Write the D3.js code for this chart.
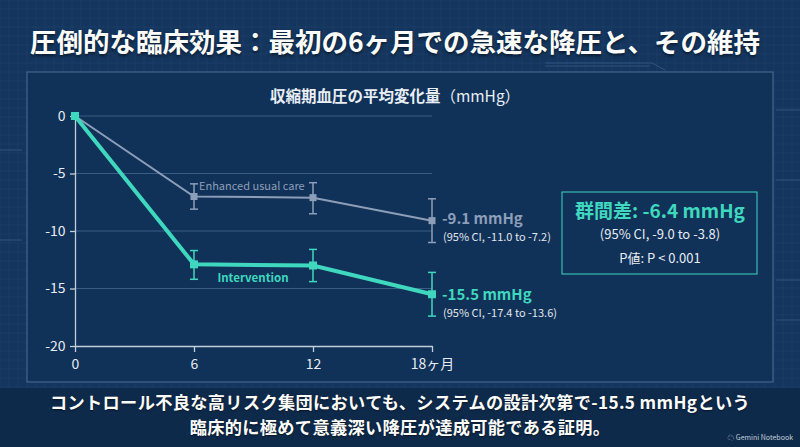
<!DOCTYPE html>
<html>
<head>
<meta charset="utf-8">
<script src="https://cdn.jsdelivr.net/npm/d3@7"></script>
<style>
  html, body { margin: 0; padding: 0; background: #14365e; }
  svg { display: block; }
  text { font-family: "Noto Sans CJK JP", "Noto Sans", sans-serif; }
</style>
</head>
<body>
<div id="chart"></div>
<script>
// data
const months = [0, 6, 12, 18];
const xTickLabels = ["0", "6", "12", "18ヶ月"];
const yTicks = [0, -5, -10, -15, -20];
const usualMean = [0, -7.0, -7.1, -9.1];
const usualLo = [0, -8.1, -8.5, -11.0];
const usualHi = [0, -5.9, -5.8, -7.2];
const interMean = [0, -12.9, -13.0, -15.5];
const interLo = [0, -14.2, -14.4, -17.4];
const interHi = [0, -11.7, -11.6, -13.6];

const w = 800, h = 447;
const teal = "#3fd8bf";
const grey = "#8d9fb8";

const svg = d3.select('#chart').append('svg').attr('width', w).attr('height', h);

// blueprint background grid
const bg = svg.append('g');
bg.append('rect').attr('width', w).attr('height', h).attr('fill', '#14365e');
bg.selectAll('line.vg').data(d3.range(0, w, 9)).enter().append('line')
  .attr('x1', d => d).attr('x2', d => d).attr('y1', 0).attr('y2', h)
  .attr('stroke', '#2a4d78').attr('stroke-width', 0.5).attr('opacity', 0.5);
bg.selectAll('line.hg').data(d3.range(0, h, 9)).enter().append('line')
  .attr('x1', 0).attr('x2', w).attr('y1', d => d).attr('y2', d => d)
  .attr('stroke', '#2a4d78').attr('stroke-width', 0.5).attr('opacity', 0.5);
// decorative outlines
bg.append('path').attr('d', 'M545,63 L652,63 L665,70 M545,66 L650,66 M776,110 L800,110 M776,180 L800,180 M776,280 L800,280 M776,320 L800,320 M0,150 L22,150 M0,240 L22,240')
  .attr('stroke', '#3d6390').attr('fill', 'none').attr('stroke-width', 1).attr('opacity', 0.7);

// bottom band
svg.append('rect').attr('x', 0).attr('y', 388).attr('width', w).attr('height', h - 388).attr('fill', '#0e2a4b');

// panel
svg.append('rect').attr('x', 27).attr('y', 72).attr('width', 746).attr('height', 310)
  .attr('fill', '#103158').attr('stroke', '#4d6f96').attr('stroke-width', 1);

// title
svg.append('text').attr('x', 395).attr('y', 52).attr('text-anchor', 'middle')
  .attr('fill', '#ffffff').attr('font-size', 26.5).attr('font-weight', 'bold')
  .style('text-shadow', '0 2px 3px rgba(0,0,0,0.5)')
  .text('圧倒的な臨床効果：最初の6ヶ月での急速な降圧と、その維持');

const sub = svg.append('text').attr('x', 395).attr('y', 102).attr('text-anchor', 'middle')
  .attr('fill', '#e8eef5').attr('font-size', 15.5);
sub.append('tspan').attr('font-weight', 'bold').text('収縮期血圧の平均変化量');
sub.append('tspan').attr('font-weight', 'normal').text('（mmHg）');

// scales
const xScale = d3.scaleLinear().domain([0, 18]).range([75, 432]);
const yScale = d3.scaleLinear().domain([0, -20]).range([116, 346]);

// grid lines
svg.append('g').selectAll('line').data(yTicks.slice(0, 4)).enter().append('line')
  .attr('x1', xScale(0)).attr('x2', xScale(18))
  .attr('y1', d => yScale(d)).attr('y2', d => yScale(d))
  .attr('stroke', '#3b5c84').attr('stroke-width', 1);

// axes
const xAxis = d3.axisBottom(xScale).tickValues(months).tickFormat((d, i) => xTickLabels[i]).tickSize(6).tickSizeOuter(0);
const yAxis = d3.axisLeft(yScale).tickValues(yTicks).tickFormat(d => d).tickSize(5).tickSizeOuter(0);
const gx = svg.append('g').attr('transform', 'translate(0,' + yScale(-20) + ')').call(xAxis);
const gy = svg.append('g').attr('transform', 'translate(' + xScale(0) + ',0)').call(yAxis);
[gx, gy].forEach(g => {
  g.selectAll('path, line').attr('stroke', '#c3cedb').attr('stroke-width', 1.3);
  g.selectAll('text').attr('fill', '#e6ecf3').attr('font-size', 14)
    .attr('font-family', '"Noto Sans CJK JP", "Noto Sans", sans-serif');
});
gx.selectAll('text').attr('dy', '1.0em');
gy.selectAll('text').attr('dx', '-0.1em');

// series drawing
function drawSeries(mean, lo, hi, color, width, size) {
  const g = svg.append('g');
  const pts = months.map((m, i) => ({ m, v: mean[i], lo: lo[i], hi: hi[i] }));
  const bars = pts.filter(d => d.m > 0);
  g.selectAll('line.eb').data(bars).enter().append('line')
    .attr('x1', d => xScale(d.m)).attr('x2', d => xScale(d.m))
    .attr('y1', d => yScale(d.lo)).attr('y2', d => yScale(d.hi))
    .attr('stroke', color).attr('stroke-width', 1.5);
  ['lo', 'hi'].forEach(k => {
    g.selectAll('line.cap' + k).data(bars).enter().append('line')
      .attr('x1', d => xScale(d.m) - 4).attr('x2', d => xScale(d.m) + 4)
      .attr('y1', d => yScale(d[k])).attr('y2', d => yScale(d[k]))
      .attr('stroke', color).attr('stroke-width', 1.5);
  });
  g.append('path').datum(pts)
    .attr('d', d3.line().x(d => xScale(d.m)).y(d => yScale(d.v)))
    .attr('fill', 'none').attr('stroke', color).attr('stroke-width', width);
  g.selectAll('rect').data(pts).enter().append('rect')
    .attr('x', d => xScale(d.m) - size / 2).attr('y', d => yScale(d.v) - size / 2)
    .attr('width', size).attr('height', size).attr('fill', color);
}
drawSeries(usualMean, usualLo, usualHi, grey, 2, 7);
drawSeries(interMean, interLo, interHi, teal, 4, 8);

// series labels
svg.append('text').attr('x', 199).attr('y', 190).attr('fill', grey).attr('font-size', 11)
  .text('Enhanced usual care');
svg.append('text').attr('x', 253).attr('y', 282).attr('text-anchor', 'middle').attr('fill', teal)
  .attr('font-size', 11.5).attr('font-weight', 'bold').text('Intervention');

// end labels
svg.append('text').attr('x', 442).attr('y', 224).attr('fill', grey).attr('font-size', 15)
  .attr('font-weight', 'bold').text('-9.1 mmHg');
svg.append('text').attr('x', 443).attr('y', 241).attr('fill', '#e0e7ef').attr('font-size', 11)
  .text('(95% CI, -11.0 to -7.2)');
svg.append('text').attr('x', 442).attr('y', 300).attr('fill', teal).attr('font-size', 15)
  .attr('font-weight', 'bold').text('-15.5 mmHg');
svg.append('text').attr('x', 443).attr('y', 317).attr('fill', '#e0e7ef').attr('font-size', 11)
  .text('(95% CI, -17.4 to -13.6)');

// difference box
svg.append('rect').attr('x', 562).attr('y', 192).attr('width', 195).attr('height', 82)
  .attr('fill', '#103158').attr('stroke', teal).attr('stroke-width', 1);
svg.append('text').attr('x', 660).attr('y', 218).attr('text-anchor', 'middle').attr('fill', teal)
  .attr('font-size', 19).attr('font-weight', 'bold').text('群間差: -6.4 mmHg');
svg.append('text').attr('x', 660).attr('y', 239).attr('text-anchor', 'middle').attr('fill', '#e6ecf3')
  .attr('font-size', 13).text('(95% CI, -9.0 to -3.8)');
svg.append('text').attr('x', 660).attr('y', 263).attr('text-anchor', 'middle').attr('fill', '#e6ecf3')
  .attr('font-size', 13).text('P値: P < 0.001');

// bottom caption, two lines
const caption = ['コントロール不良な高リスク集団においても、システムの設計次第で-15.5 mmHgという',
                 '臨床的に極めて意義深い降圧が達成可能である証明。'];
svg.selectAll('text.cap').data(caption).enter().append('text')
  .attr('class', 'cap')
  .attr('x', 400).attr('y', (d, i) => 409 + i * 25).attr('text-anchor', 'middle')
  .attr('fill', '#ffffff').attr('font-size', 17.2).attr('font-weight', 'bold')
  .attr('letter-spacing', 0.35)
  .style('text-shadow', '0 1px 2px rgba(0,0,0,0.5)')
  .text(d => d);

svg.append('text').attr('x', 793).attr('y', 440).attr('text-anchor', 'end').attr('fill', '#c8d2de')
  .attr('font-size', 7).text('☁ Gemini Notebook');
</script>
</body>
</html>
